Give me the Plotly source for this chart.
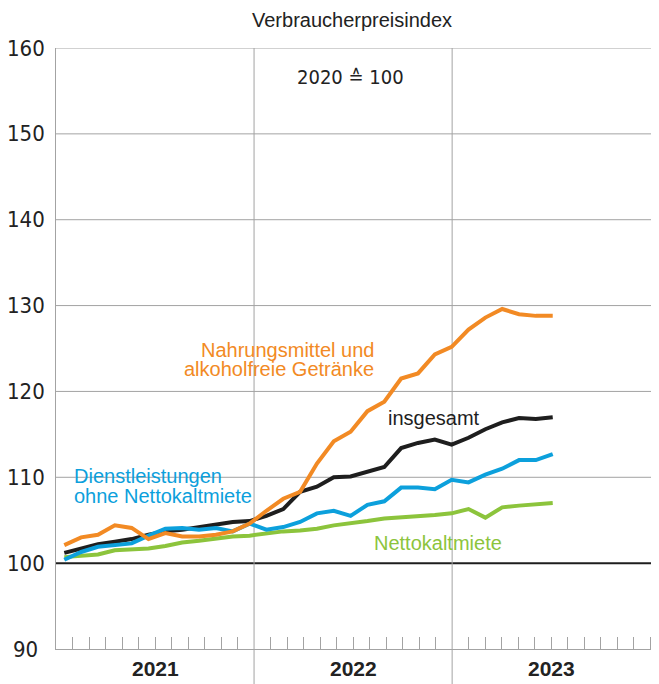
import plotly.graph_objects as go

# --- Data (monthly, Jan 2021 - Jun 2023, 2020 = 100) ---
months = ["2021-%02d" % m for m in range(1, 13)] + \
         ["2022-%02d" % m for m in range(1, 13)] + \
         ["2023-%02d" % m for m in range(1, 7)]

insgesamt = [101.2, 101.7, 102.2, 102.5, 102.8, 103.3, 103.7, 103.9, 104.2, 104.6,
             104.8, 104.9, 105.5, 106.3, 108.3, 108.9, 110.0, 110.1, 110.6, 111.2,
             113.4, 114.0, 114.4, 113.8, 114.6, 115.6, 116.4, 116.9, 116.8, 117.0]

nahrungsmittel = [102.1, 103.0, 103.3, 104.4, 104.1, 102.8, 103.5, 103.1, 103.1, 103.3,
                  103.7, 104.6, 106.1, 107.5, 108.3, 111.6, 114.2, 115.3, 117.7, 118.8,
                  121.5, 122.1, 124.3, 125.2, 127.2, 128.6, 129.6, 129.0, 128.8, 128.8]

dienstleistungen = [100.4, 101.3, 101.9, 102.1, 102.3, 103.2, 104.0, 104.1, 103.9, 104.1,
                    103.7, 104.6, 103.9, 104.2, 104.8, 105.8, 106.1, 105.5, 106.8, 107.2,
                    108.8, 108.8, 108.6, 109.7, 109.4, 110.3, 111.0, 112.0, 112.0, 112.7]

nettokaltmiete = [100.7, 100.8, 101.0, 101.5, 101.6, 101.7, 102.0, 102.4, 102.6, 102.9,
                  103.1, 103.2, 103.5, 103.7, 103.8, 104.0, 104.4, 104.6, 104.9, 105.2,
                  105.3, 105.4, 105.6, 105.8, 106.3, 105.3, 106.5, 106.7, 106.8, 107.0]

years = ["2021", "2022", "2023"]
y_ticks = [90, 100, 110, 120, 130, 140, 150, 160]

# --- Colours / fonts ---
ORANGE = "#F28A24"
BLUE = "#0CA0DC"
GREEN = "#8CC43C"
BLACK = "#1E1E1E"
GRID = "#A3A3A3"
NARROW = "Liberation Sans Narrow, DejaVu Sans Condensed, sans-serif"
SANS = "Liberation Sans, Arial, sans-serif"

# month centres on a numeric axis
x = [i + 0.5 for i in range(len(months))]

# the original's month grid is a touch narrower than the data spacing
month_w = 0.98
x_left = 0.007
year_edges = [x_left + 12 * month_w * k for k in range(4)]

fig = go.Figure()

for vals, col, name in [(nettokaltmiete, GREEN, "Nettokaltmiete"),
                        (insgesamt, BLACK, "insgesamt"),
                        (dienstleistungen, BLUE, "Dienstleistungen ohne Nettokaltmiete"),
                        (nahrungsmittel, ORANGE, "Nahrungsmittel und alkoholfreie Getränke")]:
    fig.add_trace(go.Scatter(x=x, y=vals, mode="lines", name=name,
                             line=dict(color=col, width=4), hoverinfo="skip"))

shapes = []
# horizontal grid
for v in y_ticks[2:]:
    shapes.append(dict(type="line", xref="paper", x0=0, x1=1, yref="y", y0=v, y1=v,
                       line=dict(color=GRID, width=1), layer="below"))
shapes.append(dict(type="line", xref="paper", x0=0, x1=1, yref="y", y0=100, y1=100,
                   line=dict(color=BLACK, width=2), layer="below"))
# year separators, running down through the label band
for e in year_edges[1:3]:
    shapes.append(dict(type="line", xref="x", x0=e, x1=e, yref="paper", y0=-0.06, y1=1,
                       line=dict(color=GRID, width=1), layer="below"))

tickvals = [x_left + month_w * k for k in range(1, 37) if k % 12 != 0 or k == 36]

annotations = []
for v in y_ticks:
    annotations.append(dict(x=-0.05, xref="paper", y=v, yref="y", text=str(v),
                            showarrow=False, xanchor="center", yanchor="middle",
                            font=dict(family=NARROW, size=22, color="#222")))
for i, yr in enumerate(years):
    xc = (year_edges[i] + min(year_edges[i + 1], 35.81)) / 2
    annotations.append(dict(x=xc, xref="x", y=-0.032, yref="paper",
                            text="<b>%s</b>" % yr, showarrow=False,
                            xanchor="center", yanchor="middle",
                            font=dict(family=SANS, size=21, color="#222")))

annotations += [
    dict(x=0.491, xref="paper", y=1.0666, yref="paper", text="Verbraucherpreisindex",
         showarrow=False, xanchor="center", yanchor="top", borderpad=0,
         font=dict(family=SANS, size=20, color="#222")),
    dict(x=17.5, xref="x", y=156.6, yref="y", text="2020 ≙ 100",
         showarrow=False, xanchor="center", yanchor="middle",
         font=dict(family=NARROW, size=20, color="#222")),
    dict(x=19.0, xref="x", y=124.8, yref="y", text="Nahrungsmittel und",
         showarrow=False, xanchor="right", yanchor="middle",
         font=dict(family=SANS, size=20, color=ORANGE)),
    dict(x=19.0, xref="x", y=122.65, yref="y", text="alkoholfreie Getränke",
         showarrow=False, xanchor="right", yanchor="middle",
         font=dict(family=SANS, size=20, color=ORANGE)),
    dict(x=19.6, xref="x", y=116.95, yref="y", text="insgesamt",
         showarrow=False, xanchor="left", yanchor="middle",
         font=dict(family=SANS, size=20, color=BLACK)),
    dict(x=0.98, xref="x", y=110.2, yref="y", text="Dienstleistungen",
         showarrow=False, xanchor="left", yanchor="middle",
         font=dict(family=SANS, size=20, color=BLUE)),
    dict(x=0.98, xref="x", y=107.8, yref="y", text="ohne Nettokaltmiete",
         showarrow=False, xanchor="left", yanchor="middle",
         font=dict(family=SANS, size=20, color=BLUE)),
    dict(x=18.75, xref="x", y=102.3, yref="y", text="Nettokaltmiete",
         showarrow=False, xanchor="left", yanchor="middle",
         font=dict(family=SANS, size=20, color=GREEN)),
]

# the page body adds 8 px around the figure, so the figure is 8 px smaller
fig.update_layout(
    width=651, height=676,
    margin=dict(l=48, r=0, t=40, b=35),
    plot_bgcolor="white", paper_bgcolor="white",
    showlegend=False,
    xaxis=dict(range=[0.007, 35.81], showgrid=False, zeroline=False,
               showline=True, linecolor=GRID, linewidth=1,
               tickmode="array", tickvals=tickvals, ticks="inside",
               ticklen=12, tickcolor=GRID, tickwidth=1, showticklabels=False),
    yaxis=dict(range=[90, 160], showgrid=False, zeroline=False,
               showline=True, linecolor=GRID, linewidth=1,
               showticklabels=False, ticks=""),
    shapes=shapes,
    annotations=annotations,
)

fig.write_html("out.html")
